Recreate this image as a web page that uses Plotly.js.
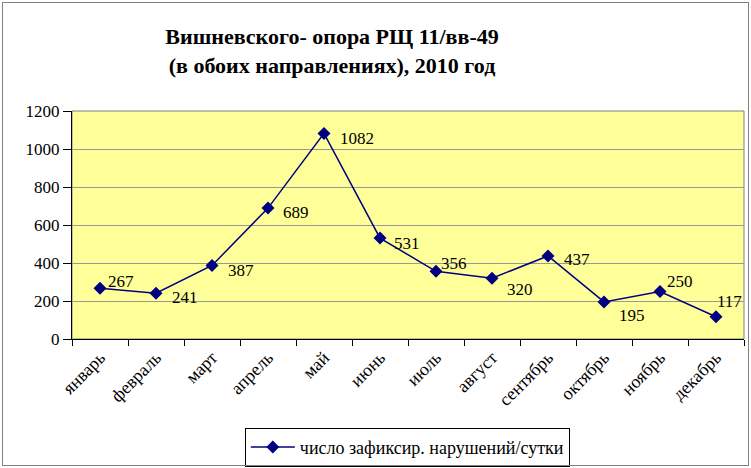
<!DOCTYPE html>
<html>
<head>
<meta charset="utf-8">
<script src="https://cdn.plot.ly/plotly-3.0.1.min.js"></script>
<style>
  html, body { margin: 0; padding: 0; background: #ffffff; }
  #wrap { position: relative; width: 751px; height: 468px; }
  #chart { width: 751px; height: 468px; }
  #frame { position: absolute; left: 2px; top: 2px; width: 745px; height: 462px;
           border: 1px solid #808080; pointer-events: none; }
</style>
</head>
<body>
<div id="wrap">
  <div id="chart"></div>
  <div id="frame"></div>
</div>
<script>
// ---- data ----
const months = ["январь","февраль","март","апрель","май","июнь","июль","август","сентябрь","октябрь","ноябрь","декабрь"];
const violations = [267, 241, 387, 689, 1082, 531, 356, 320, 437, 195, 250, 117];
const seriesName = "число зафиксир. нарушений/сутки";
const titleLines = ["Вишневского- опора РЩ 11/вв-49", "(в обоих направлениях), 2010 год"];
const yTicks = [0, 200, 400, 600, 800, 1000, 1200];

// ---- label offsets (style only, px) ----
const labelDx = [6, 14, 14, 13, 14, 12, 3, 13, 14, 13, 5, -1];
const labelDy = [-7, 4, 5, 4, 5, 5, -8, 11, 4, 14, -10, -15];

const serif = "Liberation Serif, Times New Roman, serif";
const navy = "#000080";

const trace = {
  type: "scatter",
  mode: "lines+markers",
  x: months,
  y: violations,
  name: seriesName,
  line: { color: navy, width: 1.5 },
  marker: { symbol: "diamond", size: 10, color: navy, line: { width: 0 } },
  hoverinfo: "skip"
};

const annotations = months.map((m, i) => ({
  x: m, y: violations[i], xref: "x", yref: "y",
  text: String(violations[i]),
  showarrow: false,
  xanchor: "left", yanchor: "middle",
  xshift: labelDx[i], yshift: -labelDy[i],
  font: { family: serif, size: 17, color: "#000000" }
}));

const layout = {
  width: 751, height: 468,
  font: { family: serif, color: "#000000" },
  margin: { l: 72, r: 7, t: 111, b: 128.5, autoexpand: false },
  paper_bgcolor: "#ffffff",
  plot_bgcolor: "#FFFF99",
  showlegend: true,
  title: {
    text: titleLines.join("<br>"),
    font: { family: serif, size: 22, color: "#000000", weight: "bold" },
    x: 332 / 751, xref: "container", xanchor: "center",
    y: 1 - 44 / 468, yref: "container", yanchor: "middle"
  },
  xaxis: {
    type: "category",
    categoryarray: months,
    range: [-0.5, months.length - 0.5],
    tickson: "boundaries",
    ticks: "outside", ticklen: 6, tickcolor: "#000000", tickwidth: 1,
    showline: true, linecolor: "#000000", linewidth: 1,
    showgrid: false, zeroline: false,
    tickangle: -45,
    tickfont: { family: serif, size: 18, color: "#000000" },
    automargin: false,
    fixedrange: true
  },
  yaxis: {
    range: [0, 1200],
    tickvals: yTicks,
    ticktext: yTicks.map(String),
    ticks: "outside", ticklen: 8, tickcolor: "#000000", tickwidth: 1,
    showline: true, linecolor: "#000000", linewidth: 1,
    showgrid: true, gridcolor: "#999999", gridwidth: 1,
    zeroline: false,
    tickfont: { family: serif, size: 17, color: "#000000" },
    automargin: false,
    fixedrange: true
  },
  shapes: [{
    type: "rect", xref: "paper", yref: "paper",
    x0: 0, x1: 1, y0: 0, y1: 1,
    line: { color: "#808080", width: 1 },
    fillcolor: "rgba(0,0,0,0)", layer: "below"
  }],
  legend: {
    x: 0.499, xanchor: "center",
    y: -0.39, yanchor: "top",
    orientation: "h",
    bgcolor: "#ffffff",
    bordercolor: "#000000", borderwidth: 1,
    itemwidth: 44,
    font: { family: serif, size: 18, color: "#000000" }
  },
  annotations: annotations
};

Plotly.newPlot("chart", [trace], layout, { displayModeBar: false, staticPlot: true });
</script>
</body>
</html>
